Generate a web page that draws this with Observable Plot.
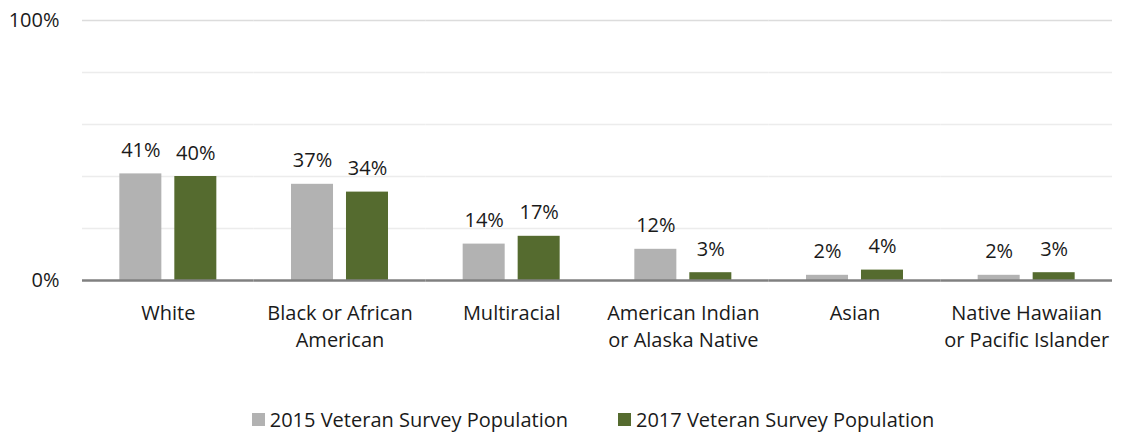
<!DOCTYPE html>
<html>
<head>
<meta charset="utf-8">
<script src="https://cdn.jsdelivr.net/npm/d3@7"></script>
<script src="https://cdn.jsdelivr.net/npm/@observablehq/plot@0.6"></script>
<style>
  body { margin: 0; background: #fff; font-family: "Open Sans", "Noto Sans", sans-serif; }
  #legend { display: flex; justify-content: center; gap: 50px; margin-top: 36px; font-size: 20px; line-height: 27px; color: #1a1a1a; position: relative; left: 32px; }
  #legend .item { display: flex; align-items: center; }
  #legend .sw { width: 13px; height: 13px; margin-right: 5px; display: inline-block; }
</style>
</head>
<body>
<div id="chart"></div>
<div id="legend"></div>
<script>
const categories = ["White", "Black or African American", "Multiracial", "American Indian or Alaska Native", "Asian", "Native Hawaiian or Pacific Islander"];
const tickLabels = ["White", "Black or African\nAmerican", "Multiracial", "American Indian\nor Alaska Native", "Asian", "Native Hawaiian\nor Pacific Islander"];
const seriesNames = ["2015 Veteran Survey Population", "2017 Veteran Survey Population"];
const seriesKeys = ["2015", "2017"];
const seriesColors = ["#b2b2b2", "#556b2f"];
const v2015 = [41, 37, 14, 12, 2, 2];
const v2017 = [40, 34, 17, 3, 4, 3];
const gridTicks = [0, 20, 40, 60, 80, 100];
const axisTicks = [0, 100];

const data = [];
categories.forEach((c, i) => {
  data.push({cat: c, series: "2015", value: v2015[i]});
  data.push({cat: c, series: "2017", value: v2017[i]});
});
const labelData = categories.map((c, i) => ({cat: c, label: tickLabels[i]}));

const chart = Plot.plot({
  width: 1122,
  height: 370,
  marginTop: 20,
  marginBottom: 90,
  marginLeft: 82,
  marginRight: 10,
  style: {fontFamily: "'Open Sans', 'Noto Sans', sans-serif", fontSize: "20px", color: "#1a1a1a"},
  fx: {domain: categories, padding: 0, round: false, axis: null},
  x: {domain: seriesKeys, paddingInner: 0.236, paddingOuter: 0.679, round: false, axis: null},
  y: {domain: [0, 100], axis: null},
  color: {domain: seriesKeys, range: seriesColors},
  marks: [
    Plot.ruleY(gridTicks.filter(d => d > 0 && d < 100), {stroke: "#ececec", strokeWidth: 1.5}),
    Plot.ruleY([100], {stroke: "#dcdcdc", strokeWidth: 1.5}),
    Plot.axisY({ticks: axisTicks, label: null, tickSize: 0, tickPadding: 23, tickFormat: d => d + "%", fontSize: 20, anchor: "left"}),
    Plot.barY(data, {fx: "cat", x: "series", y: "value", fill: "series"}),
    Plot.text(data, {fx: "cat", x: "series", y: "value", text: d => d.value + "%", lineAnchor: "bottom", dy: -17, fontSize: 20, fill: "#1a1a1a"}),
    Plot.ruleY([0], {stroke: "#808080", strokeWidth: 2.5}),
    Plot.text(labelData, {fx: "cat", text: "label", frameAnchor: "bottom", lineAnchor: "top", dy: 20, lineHeight: 1.35, fontSize: 20, fill: "#1a1a1a"})
  ]
});
document.getElementById("chart").appendChild(chart);

const legend = document.getElementById("legend");
seriesNames.forEach((name, i) => {
  const item = document.createElement("div");
  item.className = "item";
  const sw = document.createElement("span");
  sw.className = "sw";
  sw.style.background = seriesColors[i];
  item.appendChild(sw);
  item.appendChild(document.createTextNode(name));
  legend.appendChild(item);
});
</script>
</body>
</html>
